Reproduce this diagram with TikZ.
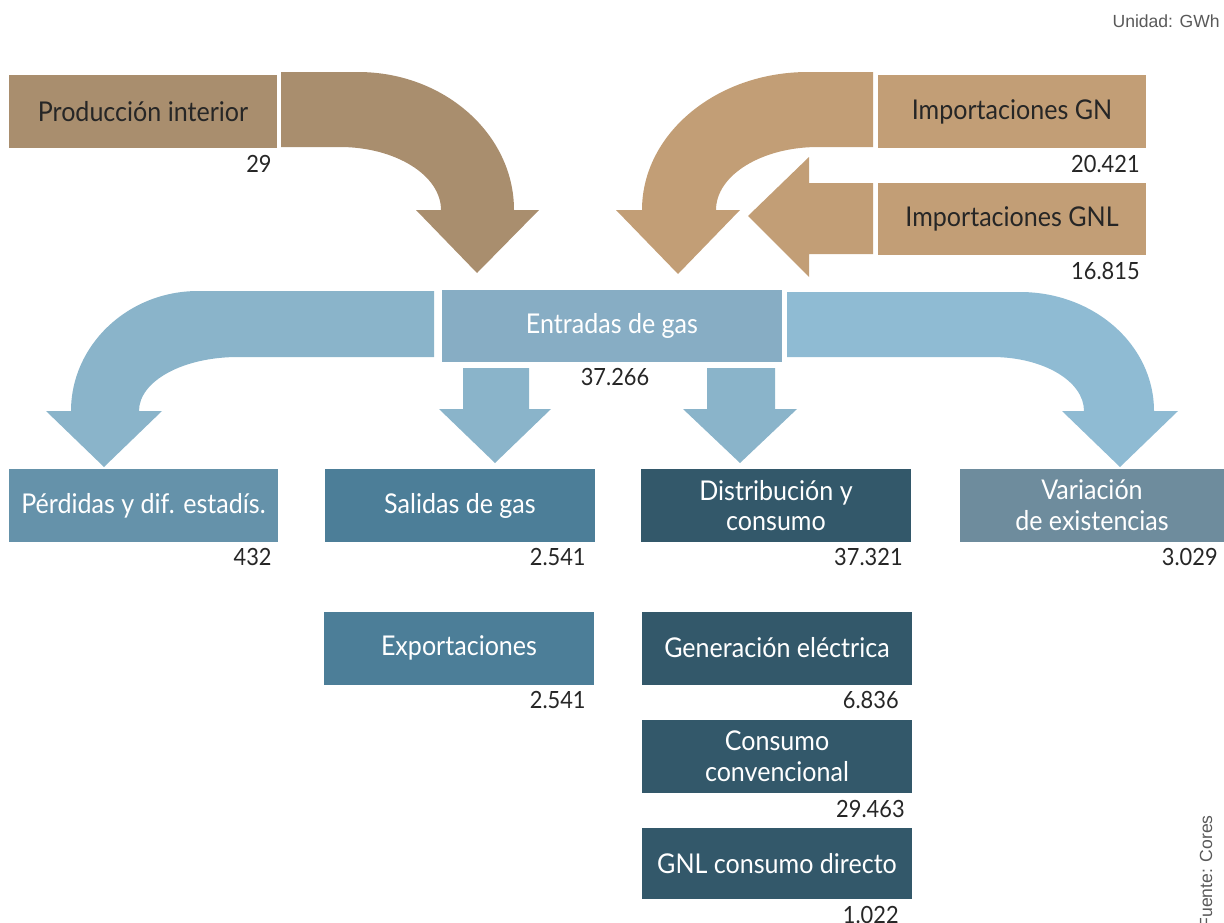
\documentclass[tikz,border=0pt]{standalone}
\usepackage{fontspec}
\setmainfont{Lato}[FakeStretch=0.92]
\newfontfamily\notefont{Liberation Sans}
\definecolor{brownA}{HTML}{A98E6E}
\definecolor{brownB}{HTML}{C29E76}
\definecolor{flowblue}{HTML}{8AB4CA}
\definecolor{flowblueR}{HTML}{8FBBD3}
\definecolor{entrblue}{HTML}{87ADC4}
\definecolor{perdblue}{HTML}{6592AA}
\definecolor{salblue}{HTML}{4C7E98}
\definecolor{distblue}{HTML}{33586A}
\definecolor{varblue}{HTML}{6E8C9D}
\tikzset{
  flowbox/.style={inner sep=0pt, minimum width=5.4cm, minimum height=1.46cm,
    text=white, align=center, font=\fontsize{15.5}{17.5}\selectfont},
  valnum/.style={inner sep=0pt, anchor=north east, text=black!85,
    font=\fontsize{13.5}{15}\selectfont},
  note/.style={inner sep=0pt, text=black!65, font=\notefont\fontsize{10}{12}\selectfont}
}
\begin{document}
\begin{tikzpicture}[x=0.02cm,y=-0.02cm]
\useasboundingbox (0,0) rectangle (1224,923);

% flechas de entrada
\fill[brownA] (281,72) -- (358,72) .. controls (444,72) and (514,134) .. (514,210)
  -- (539,210) -- (477,273) -- (416,210) -- (441,210)
  .. controls (441,175) and (395,147) .. (340,147) -- (281,147) -- cycle;
\fill[brownB] (873,72) -- (808,72) .. controls (716,72) and (642,134) .. (642,210)
  -- (616,210) -- (678,274) -- (740,210) -- (716,210)
  .. controls (716,175) and (762,147) .. (818,147) -- (873,147) -- cycle;
\fill[brownB] (873,183) -- (809,183) -- (809,157) -- (748,216) -- (809,277)
  -- (809,254) -- (873,254) -- cycle;

% flechas de salida
\fill[flowblue] (434,291) -- (198,291) .. controls (128,291) and (71,345) .. (71,411)
  -- (46,411) -- (104,467) -- (162,411) -- (139,411)
  .. controls (139,381) and (183,357) .. (238,357) -- (434,357) -- cycle;
\fill[flowblueR] (787,292) -- (1020,292) .. controls (1094,292) and (1154,345) .. (1154,411)
  -- (1178,411) -- (1120,467) -- (1062,411) -- (1084,411)
  .. controls (1084,381) and (1043,357) .. (992,357) -- (787,357) -- cycle;
\fill[flowblue] (463,368) -- (529,368) -- (529,409) -- (551,409) -- (495,463)
  -- (439,409) -- (463,409) -- cycle;
\fill[flowblue] (707,368) -- (775,368) -- (775,409) -- (797,409) -- (740,463)
  -- (683,409) -- (707,409) -- cycle;

% cajas
\node[flowbox, minimum width=5.36cm, fill=brownA, text=black!85] (prod) at (143,111.5) {Producción interior};
\node[flowbox, minimum width=5.36cm, fill=brownB, text=black!85] (impgn) at (1012,111.5) {Importaciones GN};
\node[flowbox, minimum width=5.36cm, fill=brownB, text=black!85, minimum height=1.44cm] (impgnl) at (1012,219) {Importaciones GNL};
\node[flowbox, minimum width=6.82cm, fill=entrblue] (entr) at (612,326) {Entradas de gas};

\node[flowbox, fill=perdblue] (perd) at (143.5,505.5) {Pérdidas y dif. estadís.};
\node[flowbox, fill=salblue] (sal) at (460,505.5) {Salidas de gas};
\node[flowbox, fill=distblue] (dist) at (776,505.5) {Distribución y\\consumo};
\node[flowbox, minimum width=5.28cm, fill=varblue] (var) at (1092,505.5) {Variación\\de existencias};

\node[flowbox, fill=salblue] (exp) at (459,648) {Exportaciones};
\node[flowbox, fill=distblue] (gen) at (777,648) {Generación eléctrica};
\node[flowbox, fill=distblue] (conv) at (777,756.5) {Consumo\\convencional};
\node[flowbox, fill=distblue, minimum height=1.42cm] (gnl) at (777,863.5) {GNL consumo directo};

% valores
\node[valnum] (prodv) at (272,155) {29};
\node[valnum] (impgnv) at (1140,155) {20.421};
\node[valnum] (impgnlv) at (1140,262) {16.815};
\node[valnum, anchor=north] (entrv) at (615,368) {37.266};
\node[valnum] (perdv) at (272,548) {432};
\node[valnum] (salv) at (586,548) {2.541};
\node[valnum] (distv) at (903,548) {37.321};
\node[valnum] (varv) at (1218,548) {3.029};
\node[valnum] (expv) at (586,691) {2.541};
\node[valnum] (genv) at (899,691) {6.836};
\node[valnum] (convv) at (905,800) {29.463};
\node[valnum] (gnlv) at (899,906) {1.022};

\node[note, anchor=base east] (unidad) at (1220,27) {Unidad: GWh};
\node[note, anchor=base east, rotate=90] (fuente) at (1212,815) {Fuente: Cores};
\end{tikzpicture}
\end{document}
